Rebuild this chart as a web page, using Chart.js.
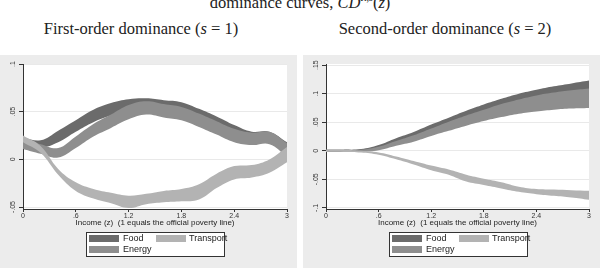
<!DOCTYPE html>
<html>
<head>
<meta charset="utf-8">
<script src="https://cdn.jsdelivr.net/npm/chart.js@4.4.0/dist/chart.umd.min.js"></script>
<style>
body { margin:0; width:600px; height:274px; background:#fff; position:relative; overflow:hidden; font-family:"Liberation Sans", Arial, sans-serif; }
.ttl { position:absolute; font-family:"Liberation Serif", serif; color:#222; white-space:nowrap; text-align:center; font-size:16.5px; line-height:16px; }
.ttl sup { font-size:10px; font-style:italic; }
.panel { position:absolute; top:55px; width:297px; height:213px; background:#ececec; }
.panel canvas { position:absolute; left:0; top:0; }
.legend { position:absolute; left:86px; top:177px; background:#fff; border:1px solid #333; width:137px; height:23px; font-size:9px; color:#222; }
.sw { position:absolute; width:30px; height:7px; }
.lt { position:absolute; line-height:9px; }
</style>
</head>
<body>
<div class="ttl" style="left:0;width:600px;top:-10px;">dominance curves, <i>CD</i><sup>R,s</sup>(<i>z</i>)</div>
<div class="ttl" style="left:0;width:282px;top:21px;">First-order dominance (<i>s</i> = 1)</div>
<div class="ttl" style="left:300px;width:290px;top:21px;">Second-order dominance (<i>s</i> = 2)</div>

<div class="panel" style="left:0;">
  <canvas id="c1" width="297" height="213"></canvas>
  <div class="legend">
    <div class="sw" style="left:2px;top:2px;background:#6b6b6b"></div><div class="lt" style="left:36px;top:1px">Food</div>
    <div class="sw" style="left:69px;top:2px;background:#b3b3b3"></div><div class="lt" style="left:102px;top:1px">Transport</div>
    <div class="sw" style="left:2px;top:13px;background:#8e8e8e"></div><div class="lt" style="left:36px;top:12px">Energy</div>
  </div>
</div>
<div class="panel" style="left:303px;">
  <canvas id="c2" width="297" height="213"></canvas>
  <div class="legend">
    <div class="sw" style="left:2px;top:2px;background:#6b6b6b"></div><div class="lt" style="left:36px;top:1px">Food</div>
    <div class="sw" style="left:69px;top:2px;background:#b3b3b3"></div><div class="lt" style="left:102px;top:1px">Transport</div>
    <div class="sw" style="left:2px;top:13px;background:#8e8e8e"></div><div class="lt" style="left:36px;top:12px">Energy</div>
  </div>
</div>

<script>
// income grid (1 = official poverty line)
var zVals = [0, 0.2, 0.4, 0.6, 0.8, 1.0, 1.2, 1.4, 1.6, 1.8, 2.0, 2.2, 2.4, 2.6, 2.8, 3.0];
var xTicks = [0, 0.6, 1.2, 1.8, 2.4, 3];
var xTickLabels = ['0', '.6', '1.2', '1.8', '2.4', '3'];

// first-order (s = 1) confidence bands
var foodHi1 = [0.023, 0.020, 0.030, 0.041, 0.052, 0.059, 0.063, 0.064, 0.062, 0.060, 0.053, 0.045, 0.036, 0.029, 0.029, 0.018];
var foodLo1 = [0.013, 0.012, 0.018, 0.029, 0.039, 0.046, 0.050, 0.051, 0.050, 0.047, 0.040, 0.032, 0.023, 0.017, 0.017, 0.004];
var energyHi1 = [0.021, 0.016, 0.012, 0.024, 0.037, 0.047, 0.057, 0.061, 0.058, 0.055, 0.048, 0.040, 0.032, 0.028, 0.029, 0.017];
var energyLo1 = [0.011, 0.006, 0.002, 0.012, 0.024, 0.033, 0.042, 0.047, 0.044, 0.041, 0.034, 0.026, 0.018, 0.015, 0.016, 0.003];
var transHi1 = [0.025, 0.014, -0.010, -0.024, -0.031, -0.035, -0.038, -0.036, -0.033, -0.031, -0.026, -0.015, -0.007, -0.006, 0.000, 0.013];
var transLo1 = [0.018, 0.007, -0.016, -0.033, -0.041, -0.046, -0.051, -0.047, -0.045, -0.044, -0.042, -0.030, -0.021, -0.019, -0.014, -0.003];
var yTicks1 = [-0.05, 0, 0.05, 0.1];
var yTickLabels1 = ['-.05', '0', '.05', '.1'];

// second-order (s = 2) confidence bands
var foodHi2 = [0.002, 0.002, 0.003, 0.010, 0.022, 0.033, 0.046, 0.058, 0.070, 0.081, 0.091, 0.100, 0.107, 0.113, 0.118, 0.123];
var foodLo2 = [-0.002, -0.002, -0.001, 0.004, 0.012, 0.022, 0.033, 0.045, 0.056, 0.067, 0.076, 0.084, 0.091, 0.097, 0.102, 0.106];
var energyHi2 = [0.002, 0.002, 0.002, 0.007, 0.017, 0.027, 0.039, 0.051, 0.062, 0.072, 0.082, 0.090, 0.097, 0.102, 0.106, 0.109];
var energyLo2 = [-0.002, -0.002, -0.002, 0.001, 0.009, 0.016, 0.026, 0.035, 0.044, 0.052, 0.059, 0.065, 0.069, 0.072, 0.074, 0.075];
var transHi2 = [0.002, 0.002, 0.000, -0.003, -0.010, -0.018, -0.026, -0.033, -0.042, -0.049, -0.055, -0.063, -0.067, -0.068, -0.069, -0.070];
var transLo2 = [-0.002, -0.002, -0.003, -0.007, -0.015, -0.024, -0.034, -0.042, -0.054, -0.060, -0.066, -0.072, -0.076, -0.079, -0.082, -0.086];
var yTicks2 = [-0.1, -0.05, 0, 0.05, 0.1, 0.15];
var yTickLabels2 = ['-.1', '-.05', '0', '.05', '.1', '.15'];

var FOOD = '#6b6b6b', ENERGY = '#8e8e8e', TRANSPORT = '#b3b3b3';

Chart.defaults.font.family = '"Liberation Sans", Arial, sans-serif';
Chart.defaults.color = '#333';

function pts(arr) {
    return zVals.map(function (z, i) { return { x: z, y: arr[i] }; });
}

function band(label, lo, hi, color, ord) {
    return [
        { label: label + ' lo', data: pts(lo), fill: false, borderWidth: 0, pointRadius: 0, tension: 0.4, order: ord },
        { label: label, data: pts(hi), fill: '-1', backgroundColor: color, borderWidth: 0, pointRadius: 0, tension: 0.4, order: ord }
    ];
}

var whiteArea = {
    id: 'whiteArea',
    beforeDraw: function (chart) {
        var a = chart.chartArea, ctx = chart.ctx;
        ctx.save();
        ctx.fillStyle = '#fff';
        ctx.fillRect(a.left, a.top, a.right - a.left, a.bottom - a.top);
        ctx.restore();
    }
};

function makePanel(id, sets, yMin, yMax, yTicks, yLabels, padRight) {
    new Chart(document.getElementById(id), {
        type: 'line',
        data: { datasets: sets },
        plugins: [whiteArea],
        options: {
            responsive: false,
            animation: false,
            layout: { padding: { top: 9, right: padRight, bottom: 37, left: 0 } },
            plugins: { legend: { display: false }, tooltip: { enabled: false } },
            scales: {
                x: {
                    type: 'linear', min: 0, max: 3,
                    afterBuildTicks: function (s) { s.ticks = xTicks.map(function (v) { return { value: v }; }); },
                    afterFit: function (s) { s.height = 22; },
                    ticks: { callback: function (v, i) { return xTickLabels[i]; }, font: { size: 7 }, padding: 0, maxRotation: 0 },
                    grid: { drawOnChartArea: false, tickLength: 3, tickColor: '#333' },
                    border: { color: '#333', width: 1 },
                    title: { display: true, text: 'Income (z)  (1 equals the official poverty line)', font: { size: 8 }, color: '#222', padding: { top: 0, bottom: 3 } }
                },
                y: {
                    min: yMin, max: yMax,
                    afterBuildTicks: function (s) { s.ticks = yTicks.map(function (v) { return { value: v }; }); },
                    afterFit: function (s) { s.width = 23; },
                    ticks: { callback: function (v, i) { return yLabels[i]; }, font: { size: 7 }, padding: 0, minRotation: 90, maxRotation: 90, crossAlign: 'center' },
                    grid: { color: '#e9e9e9', tickLength: 4, tickColor: '#333' },
                    border: { color: '#333', width: 1 }
                }
            }
        }
    });
}

makePanel('c1',
    band('Food', foodLo1, foodHi1, FOOD, 2)
        .concat(band('Energy', energyLo1, energyHi1, ENERGY, 1))
        .concat(band('Transport', transLo1, transHi1, TRANSPORT, 0)),
    -0.052, 0.1, yTicks1, yTickLabels1, 10);

makePanel('c2',
    band('Food', foodLo2, foodHi2, FOOD, 2)
        .concat(band('Energy', energyLo2, energyHi2, ENERGY, 1))
        .concat(band('Transport', transLo2, transHi2, TRANSPORT, 0)),
    -0.102, 0.152, yTicks2, yTickLabels2, 11);
</script>
</body>
</html>
